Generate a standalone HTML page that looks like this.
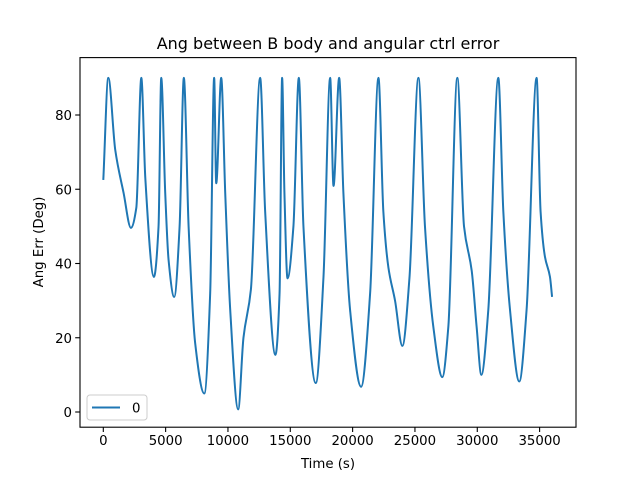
<!DOCTYPE html>
<html><head><meta charset="utf-8"><style>
html,body{margin:0;padding:0;background:#fff;}
svg text{font-family:"DejaVu Sans","Liberation Sans",sans-serif;fill:#000;}
</style></head><body>
<svg width="640" height="480" viewBox="0 0 640 480" xmlns="http://www.w3.org/2000/svg">
<rect x="0" y="0" width="640" height="480" fill="#fff"/>
<text x="328" y="49" font-size="16" text-anchor="middle">Ang between B body and angular ctrl error</text>
<g id="ticks"></g>
<path id="line" fill="none" stroke="#1f77b4" stroke-width="2" stroke-linejoin="round"/>
<rect x="80" y="57.6" width="496" height="369.6" fill="none" stroke="#000" stroke-width="1.1"/>
<text x="328" y="468" font-size="13.3" text-anchor="middle">Time (s)</text>
<text transform="translate(43,242) rotate(-90)" font-size="13.3" text-anchor="middle">Ang Err (Deg)</text>
<g>
<rect x="87" y="395" width="60" height="25" rx="3" fill="#fff" fill-opacity="0.8" stroke="#ccc" stroke-width="1"/>
<line x1="92" y1="407.5" x2="120" y2="407.5" stroke="#1f77b4" stroke-width="2"/>
<text x="132" y="412.5" font-size="13.3">0</text>
</g>
</svg>
<script>
const times=[0,402,958,1628,2216,2648,3050,3370,4059,4431,4648,4967,5235,5688,6121,6461,6843,7368,8100,8574,8893,9058,9459,9780,10181,10820,11243,11840,12582,12984,13809,14139,14345,14530,14777,15251,15684,16055,17045,17663,18199,18467,18920,19260,19796,20682,21404,22073,22465,22867,23403,23990,24557,25278,25804,26473,27195,27679,28400,28936,29555,29946,30328,30884,31688,32090,32626,33368,33955,34759,35078,35429,35831,36000];
const values=[62.5,90,70.6,59,49.6,55,90,63,36.4,50,90,59,41,31,50,90,50,18.6,5,32,90,61.6,90,59,27.5,0.7,20,33,90,54,15.4,32,90,59,36,50,90,50,7.8,36.4,90,60.9,90,59,27.5,6.8,32,90,54,39,30,17.8,36,90,50,23,9.4,23,90,50,38,23,10,27.5,90,54,27.5,8.2,27.5,90,54,41.8,36.4,31];
const xTicks=[0,5000,10000,15000,20000,25000,30000,35000];
const yTicks=[0,20,40,60,80];
const xs=t=>103.3+t*62.33/5000;
const ys=v=>412-v*297/80;
const g=document.getElementById('ticks');
const NS='http://www.w3.org/2000/svg';
function mk(tag,at){const e=document.createElementNS(NS,tag);for(const k in at)e.setAttribute(k,at[k]);g.appendChild(e);return e;}
xTicks.forEach(t=>{const x=xs(t);
const l=mk('line',{x1:x,x2:x,y1:427.2,y2:432,stroke:'#000','stroke-width':1.1});


const tx=mk('text',{x:x,y:445,'font-size':13.3,'text-anchor':'middle'});tx.textContent=t;

});
yTicks.forEach(v=>{const y=ys(v);
const l=mk('line',{x1:75.2,x2:80,y1:y,y2:y,stroke:'#000','stroke-width':1.1});


const tx=mk('text',{x:72,y:y+5,'font-size':13.3,'text-anchor':'end'});tx.textContent=v;

});
const P=times.map((t,i)=>[xs(t),ys(values[i])]);
const n=P.length,d=[],m=[];
for(let i=0;i<n-1;i++)d.push((P[i+1][1]-P[i][1])/(P[i+1][0]-P[i][0]));
m[0]=d[0];m[n-1]=d[n-2];
for(let i=1;i<n-1;i++){if(d[i-1]*d[i]<=0)m[i]=0;else{const h0=P[i][0]-P[i-1][0],h1=P[i+1][0]-P[i][0];m[i]=3*(h0+h1)/((2*h1+h0)/d[i-1]+(h1+2*h0)/d[i]);}}
let path='M'+P[0][0].toFixed(2)+','+P[0][1].toFixed(2);
for(let i=0;i<n-1;i++){const h=(P[i+1][0]-P[i][0])/3;
path+=' C'+(P[i][0]+h).toFixed(2)+','+(P[i][1]+m[i]*h).toFixed(2)+' '+(P[i+1][0]-h).toFixed(2)+','+(P[i+1][1]-m[i+1]*h).toFixed(2)+' '+P[i+1][0].toFixed(2)+','+P[i+1][1].toFixed(2);}
document.getElementById('line').setAttribute('d',path);
</script>
</body></html>
